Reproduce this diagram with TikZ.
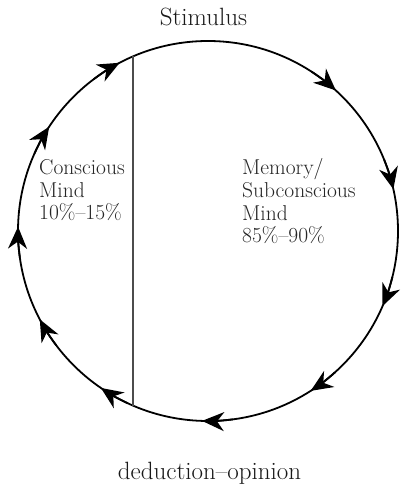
\documentclass[tikz,border=0pt]{standalone}
\usetikzlibrary{arrows.meta}
\begin{document}
\begin{tikzpicture}[x=1pt,y=1pt,
  ring/.style={line width=1.8pt, black},
  divider/.style={line width=1.6pt, black!70},
  tipmark/.style={ring, -{Stealth[length=22pt,width=19pt,inset=7pt]}},
  outer/.style={font=\fontsize{25}{29}\selectfont, text=black!90, inner sep=0pt},
  inner/.style={font=\fontsize{21.5}{22.8}\selectfont, align=left, text=black!85, inner sep=0pt}]
\useasboundingbox (0,0) rectangle (401,484);
\coordinate (C) at (208,253);
\draw[ring] (C) circle[radius=190];
\coordinate (T) at (133,427.6);
\coordinate (B) at (133,78.4);
\draw[divider] (T) -- (B);
\foreach \a in {121,150,182,211,239,271.5,306,340,16,51} {
  \draw[tipmark] (C) ++({\a+6}:190) arc[start angle={\a+6}, end angle={\a-3.3}, radius=190];
}
\node[outer, anchor=base] (stim) at (203.5,458) {Stimulus};
\node[outer, anchor=base] (ded) at (209.5,5) {deduction--opinion};
\node[inner, anchor=base west] (cons) at (39,264) {Conscious\\Mind\\10\%--15\%};
\node[inner, anchor=base west] (mem) at (242,241) {Memory/\\Subconscious\\Mind\\85\%--90\%};
\end{tikzpicture}
\end{document}
